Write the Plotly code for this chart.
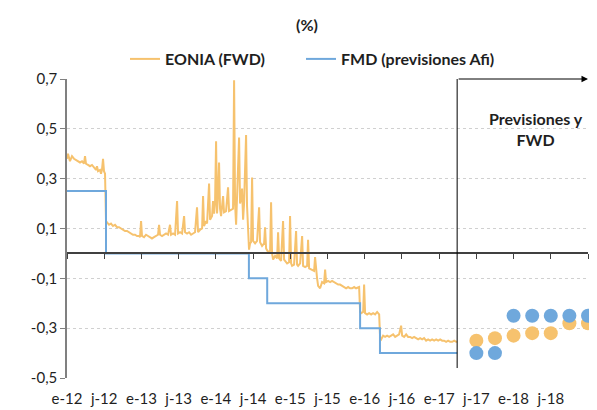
import plotly.graph_objects as go

# ---------------- data ----------------
# time axis in decimal years
tick_vals = [2012.0, 2012.5, 2013.0, 2013.5, 2014.0, 2014.5, 2015.0, 2015.5,
             2016.0, 2016.5, 2017.0, 2017.5, 2018.0, 2018.5]
tick_text = ["e-12", "j-12", "e-13", "j-13", "e-14", "j-14", "e-15", "j-15",
             "e-16", "j-16", "e-17", "j-17", "e-18", "j-18"]

y_tick_vals = [-0.5, -0.3, -0.1, 0.1, 0.3, 0.5, 0.7]
y_tick_text = ["-0,5", "-0,3", "-0,1", "0,1", "0,3", "0,5", "0,7"]

eonia_x = [
    2012.000, 2012.013, 2012.040, 2012.067, 2012.094, 2012.121, 2012.148, 2012.175,
    2012.202, 2012.228, 2012.242, 2012.255, 2012.282, 2012.309, 2012.336, 2012.363,
    2012.390, 2012.403, 2012.417, 2012.444, 2012.457, 2012.470, 2012.484, 2012.497,
    2012.511, 2012.524, 2012.538, 2012.565, 2012.591, 2012.618, 2012.645, 2012.672,
    2012.699, 2012.726, 2012.753, 2012.780, 2012.806, 2012.833, 2012.860, 2012.887,
    2012.914, 2012.941, 2012.968, 2012.981, 2012.995, 2013.008, 2013.035, 2013.062,
    2013.089, 2013.116, 2013.142, 2013.169, 2013.196, 2013.223, 2013.237, 2013.250,
    2013.277, 2013.304, 2013.331, 2013.358, 2013.384, 2013.398, 2013.425, 2013.452,
    2013.479, 2013.492, 2013.519, 2013.546, 2013.573, 2013.586, 2013.613, 2013.640,
    2013.667, 2013.694, 2013.720, 2013.747, 2013.761, 2013.788, 2013.815, 2013.828,
    2013.841, 2013.868, 2013.882, 2013.909, 2013.922, 2013.949, 2013.962, 2013.976,
    2013.989, 2014.003, 2014.016, 2014.030, 2014.043, 2014.056, 2014.070, 2014.097,
    2014.110, 2014.137, 2014.164, 2014.177, 2014.204, 2014.231, 2014.245, 2014.258,
    2014.272, 2014.285, 2014.312, 2014.325, 2014.339, 2014.352, 2014.366, 2014.379,
    2014.406, 2014.419, 2014.433, 2014.446, 2014.460, 2014.473, 2014.487, 2014.500,
    2014.527, 2014.554, 2014.581, 2014.594, 2014.621, 2014.648, 2014.661, 2014.675,
    2014.702, 2014.729, 2014.742, 2014.755, 2014.769, 2014.796, 2014.823, 2014.836,
    2014.850, 2014.876, 2014.903, 2014.917, 2014.930, 2014.957, 2014.984, 2014.997,
    2015.011, 2015.024, 2015.051, 2015.078, 2015.091, 2015.105, 2015.132, 2015.159,
    2015.172, 2015.199, 2015.226, 2015.239, 2015.253, 2015.280, 2015.293, 2015.320,
    2015.333, 2015.347, 2015.360, 2015.374, 2015.401, 2015.427, 2015.454, 2015.468,
    2015.481, 2015.508, 2015.535, 2015.562, 2015.589, 2015.616, 2015.643, 2015.669,
    2015.696, 2015.723, 2015.750, 2015.777, 2015.804, 2015.831, 2015.858, 2015.884,
    2015.911, 2015.925, 2015.938, 2015.952, 2015.979, 2015.992, 2016.005, 2016.032,
    2016.059, 2016.086, 2016.113, 2016.140, 2016.167, 2016.180, 2016.194, 2016.207,
    2016.221, 2016.247, 2016.274, 2016.301, 2016.328, 2016.355, 2016.382, 2016.409,
    2016.436, 2016.462, 2016.489, 2016.503, 2016.530, 2016.557, 2016.583, 2016.610,
    2016.637, 2016.664, 2016.691, 2016.718, 2016.745, 2016.772, 2016.798, 2016.825,
    2016.852, 2016.879, 2016.906, 2016.933, 2016.960, 2016.987, 2017.014, 2017.040,
    2017.067, 2017.094, 2017.121, 2017.148, 2017.175, 2017.202, 2017.229, 2017.242,
]
eonia_y = [
    0.38, 0.40, 0.37, 0.39, 0.38, 0.375, 0.37, 0.365,
    0.37, 0.36, 0.39, 0.36, 0.355, 0.35, 0.355, 0.345,
    0.335, 0.35, 0.33, 0.335, 0.32, 0.335, 0.38, 0.33,
    0.32, 0.13, 0.125, 0.115, 0.12, 0.11, 0.115, 0.105,
    0.105, 0.10, 0.095, 0.09, 0.09, 0.085, 0.08, 0.075,
    0.075, 0.07, 0.07, 0.065, 0.13, 0.07, 0.065, 0.075,
    0.07, 0.065, 0.06, 0.065, 0.07, 0.075, 0.115, 0.075,
    0.07, 0.075, 0.08, 0.075, 0.115, 0.075, 0.08, 0.075,
    0.21, 0.08, 0.085, 0.08, 0.15, 0.085, 0.08, 0.085,
    0.075, 0.08, 0.085, 0.185, 0.085, 0.095, 0.10, 0.23,
    0.11, 0.13, 0.12, 0.28, 0.135, 0.15, 0.21, 0.16,
    0.20, 0.45, 0.16, 0.24, 0.365, 0.18, 0.15, 0.23,
    0.165, 0.17, 0.265, 0.17, 0.175, 0.18, 0.695, 0.20,
    0.115, 0.21, 0.465, 0.20, 0.22, 0.26, 0.135, 0.20,
    0.475, 0.19, 0.10, 0.015, 0.04, 0.045, 0.305, 0.05,
    0.04, 0.05, 0.185, 0.045, 0.03, 0.04, 0.105, 0.02,
    0.005, 0.01, 0.205, 0.0, -0.025, -0.01, -0.02, 0.085,
    -0.02, -0.03, 0.13, -0.025, -0.03, -0.04, -0.035, 0.15,
    -0.04, -0.05, -0.045, 0.09, -0.045, -0.05, -0.04, 0.07,
    -0.05, -0.055, -0.05, 0.055, -0.06, -0.065, -0.065, -0.07,
    -0.015, -0.075, -0.10, -0.13, -0.14, -0.115, -0.12, -0.065,
    -0.115, -0.11, -0.115, -0.11, -0.115, -0.12, -0.125, -0.125,
    -0.13, -0.135, -0.14, -0.135, -0.14, -0.14, -0.135, -0.14,
    -0.135, -0.135, -0.235, -0.24, -0.235, -0.125, -0.24, -0.245,
    -0.24, -0.245, -0.24, -0.245, -0.235, -0.24, -0.245, -0.34,
    -0.345, -0.33, -0.335, -0.33, -0.335, -0.33, -0.325, -0.335,
    -0.33, -0.325, -0.29, -0.33, -0.335, -0.325, -0.335, -0.335,
    -0.34, -0.335, -0.34, -0.345, -0.34, -0.345, -0.34, -0.35,
    -0.345, -0.35, -0.345, -0.35, -0.345, -0.35, -0.345, -0.35,
    -0.35, -0.355, -0.35, -0.355, -0.355, -0.35, -0.355, -0.355,
]

# ECB deposit facility rate (steps)
fmd_x = [2012.000, 2012.524, 2014.444, 2014.690, 2015.938, 2016.205, 2017.242]
fmd_y = [0.25, 0.0, -0.10, -0.20, -0.30, -0.40, -0.40]

# Forecasts (quarter ends Jun-17 ... Dec-18)
fc_x = [2017.5, 2017.75, 2018.0, 2018.25, 2018.5, 2018.75, 2019.0]
fc_eonia = [-0.35, -0.34, -0.33, -0.32, -0.32, -0.28, -0.28]
fc_fmd = [-0.40, -0.40, -0.25, -0.25, -0.25, -0.25, -0.25]

ORANGE = "#F6C26E"
BLUE = "#6FA8DC"
FONT = "Lato"
TXT = "#1f1f1f"

# page body has an 8px margin -> figure is 8px smaller than the window
W, H = 589, 402
y_min, y_max = -0.5, 0.7
zero_pos = (0 - y_min) / (y_max - y_min)

fig = go.Figure()
fig.add_trace(go.Scatter(x=eonia_x, y=eonia_y, mode="lines", name="EONIA (FWD)",
                         line=dict(color=ORANGE, width=2), xaxis="x", yaxis="y",
                         legend="legend"))
fig.add_trace(go.Scatter(x=fmd_x, y=fmd_y, mode="lines", name="FMD (previsiones Afi)",
                         line=dict(color=BLUE, width=2, shape="hv"), xaxis="x", yaxis="y",
                         legend="legend2"))
fig.add_trace(go.Scatter(x=fc_x, y=fc_eonia, mode="markers", showlegend=False,
                         marker=dict(color=ORANGE, size=14, line=dict(width=0)),
                         xaxis="x2", yaxis="y", cliponaxis=False))
fig.add_trace(go.Scatter(x=fc_x, y=fc_fmd, mode="markers", showlegend=False,
                         marker=dict(color=BLUE, size=14, line=dict(width=0)),
                         xaxis="x2", yaxis="y", cliponaxis=False))

legend_common = dict(orientation="h", xanchor="left", yref="container",
                     y=1 - 51 / H, yanchor="middle",
                     font=dict(family=FONT, size=16, color=TXT, weight="bold"),
                     itemwidth=30, bgcolor="rgba(0,0,0,0)")

fig.update_layout(
    width=W, height=H,
    margin=dict(l=59, r=9, t=71, b=32, autoexpand=False),
    paper_bgcolor="white", plot_bgcolor="white",
    font=dict(family=FONT, size=14, color=TXT),
    showlegend=True,
    legend=dict(x=(125 - 67) / 521, **legend_common),
    legend2=dict(x=(301 - 67) / 521, **legend_common),
    xaxis=dict(range=[2012.0, 2019.0], tickvals=tick_vals, ticktext=tick_text,
               showgrid=False, zeroline=False, showline=False, ticks="",
               automargin=False, ticklabelstandoff=10,
               tickfont=dict(family=FONT, size=15, color=TXT)),
    xaxis2=dict(overlaying="x", matches="x", anchor="free", position=zero_pos,
                tickvals=tick_vals + [2019.0], showticklabels=False, ticks="outside",
                ticklen=5, tickcolor="#404040", tickwidth=1, automargin=False,
                showline=True, linecolor="#404040", linewidth=1.5,
                showgrid=False, zeroline=False),
    yaxis=dict(range=[y_min, y_max], tickvals=y_tick_vals, ticktext=y_tick_text,
               showgrid=True, gridcolor="#D0D0D0", griddash="dot", gridwidth=1,
               zeroline=False, showline=True, linecolor="#808080", linewidth=1.5,
               ticks="outside", ticklen=5, tickcolor="#808080", automargin=False,
               tickfont=dict(family=FONT, size=15, color=TXT)),
)

# Separator between history and forecast + arrow
fig.add_shape(type="line", xref="x", yref="y", x0=eonia_x[-1], x1=eonia_x[-1],
              y0=-0.46, y1=0.72, line=dict(color="black", width=1))
fig.add_annotation(x=2019.0, y=0.7, ax=eonia_x[-1], ay=0.7, xref="x", yref="y",
                   axref="x", ayref="y", showarrow=True, arrowhead=2, arrowsize=1.3,
                   arrowwidth=1, arrowcolor="black", text="", standoff=0)
fig.add_annotation(x=2018.3, y=0.50, xref="x", yref="y", showarrow=False,
                   text="Previsiones y<br>FWD", align="center",
                   font=dict(family=FONT, size=16, color=TXT, weight="bold"))
fig.add_annotation(x=(307 - 67) / 521, y=(378 - 25) / 299, xref="paper", yref="paper",
                   showarrow=False, xanchor="center", yanchor="middle",
                   text="(%)", font=dict(family=FONT, size=16, color=TXT, weight="bold"))

fig.write_html("out.html")
